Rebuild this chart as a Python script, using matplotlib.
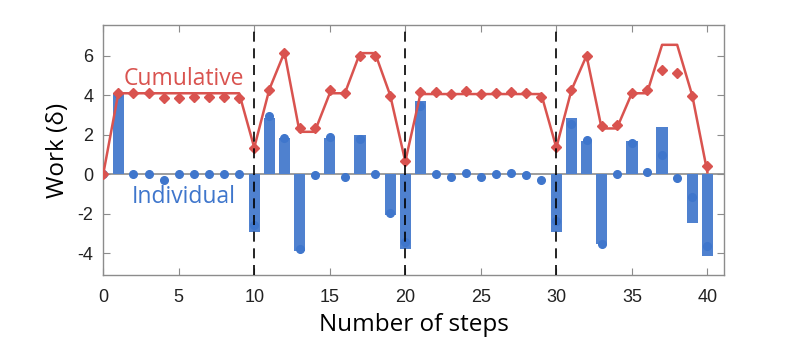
import numpy as np
import matplotlib
matplotlib.use('Agg')
import matplotlib.pyplot as plt

plt.rcParams['axes.unicode_minus'] = False

# step index
steps = list(range(41))

# theoretical individual work per step (bars)
indiv_theory = [0, 4.06, 0, 0, 0, 0, 0, 0, 0, 0, -2.9,
                2.86, 1.86, -3.86, 0, 1.86, 0, 2.01, 0, -2.08, -3.77,
                3.7, 0, 0, 0, 0, 0, 0, 0, 0, -2.9,
                2.86, 1.69, -3.52, 0, 1.69, 0, 2.4, 0, -2.47, -4.13]

# measured individual work (dots)
indiv_meas = [0, 4.05, 0.02, 0.0, -0.27, 0.03, 0.03, 0.02, 0.03, 0.02, -2.54,
              2.96, 1.86, -3.77, -0.03, 1.9, -0.14, 1.78, 0.0, -1.95, -3.43,
              3.47, 0.03, -0.14, 0.08, -0.14, 0.0, 0.08, -0.03, -0.3, -2.34,
              2.54, 1.73, -3.52, 0.02, 1.56, 0.12, 1.0, -0.17, -1.15, -3.64]

# theoretical cumulative work (line)
cum_theory = [0, 4.1, 4.1, 4.1, 4.1, 4.1, 4.1, 4.1, 4.1, 4.1, 1.35,
              4.3, 6.17, 2.15, 2.15, 4.1, 4.1, 6.13, 6.13, 4.0, 0.65,
              4.06, 4.06, 4.06, 4.06, 4.06, 4.06, 4.06, 4.06, 4.06, 1.35,
              4.26, 6.0, 2.32, 2.32, 4.1, 4.1, 6.55, 6.55, 3.98, 0.1]

# measured cumulative work (diamonds)
cum_meas = [0, 4.1, 4.13, 4.13, 3.87, 3.87, 3.9, 3.9, 3.9, 3.86, 1.32,
            4.28, 6.13, 2.35, 2.32, 4.28, 4.13, 6.0, 6.0, 3.96, 0.66,
            4.16, 4.18, 4.06, 4.2, 4.06, 4.13, 4.18, 4.13, 3.9, 1.39,
            4.26, 6.0, 2.44, 2.49, 4.13, 4.26, 5.28, 5.11, 3.98, 0.41]

dividers = [10, 20, 30]

red = '#d9534f'
blue_bar = '#4f81cf'
blue_dot = '#3f76cc'
gray = '#8c8c8c'

fig = plt.figure(figsize=(8, 3.63), dpi=100)
ax = fig.add_axes([0.129, 0.242, 0.776, 0.689])

ax.axhline(0, color=gray, lw=1.2, zorder=1)
ax.bar(steps, indiv_theory, width=0.75, color=blue_bar, zorder=2)
ax.plot(steps, indiv_meas, 'o', color=blue_dot, ms=5.5, zorder=3)
ax.plot(steps, cum_theory, '-', color=red, lw=1.8, zorder=4)
ax.plot(steps, cum_meas, 'D', color=red, ms=5, zorder=5)
for d in dividers:
    ax.axvline(d, color='black', lw=1.2, ls=(0, (6, 4)), zorder=6)

ax.text(1.36, 4.82, 'Cumulative', color=red, fontsize=16.5, family='Open Sans',
        va='center', ha='left')
ax.text(1.87, -1.15, 'Individual', color=blue_dot, fontsize=16.5, family='Open Sans',
        va='center', ha='left')

ax.set_xlim(0, 41.1)
ax.set_ylim(-5.1, 7.55)
ax.set_xticks(range(0, 41, 5))
ax.set_yticks(range(-4, 7, 2))
ax.tick_params(direction='in', length=5, color=gray, top=True, right=True,
               labelsize=13)
ax.tick_params(axis='x', pad=10)
ax.tick_params(axis='y', pad=7)
for lab in ax.get_xticklabels() + ax.get_yticklabels():
    lab.set_family('Liberation Sans')
    lab.set_color('#222222')
for s in ax.spines.values():
    s.set_color(gray)
    s.set_linewidth(1.0)

ax.set_xlabel('Number of steps', fontsize=17.5, family='Open Sans', labelpad=5)
ax.set_ylabel('Work (δ)', fontsize=17.5, family='Open Sans')
ax.yaxis.set_label_coords(-0.054, 0.5)

fig.savefig('out.png', dpi=100)
